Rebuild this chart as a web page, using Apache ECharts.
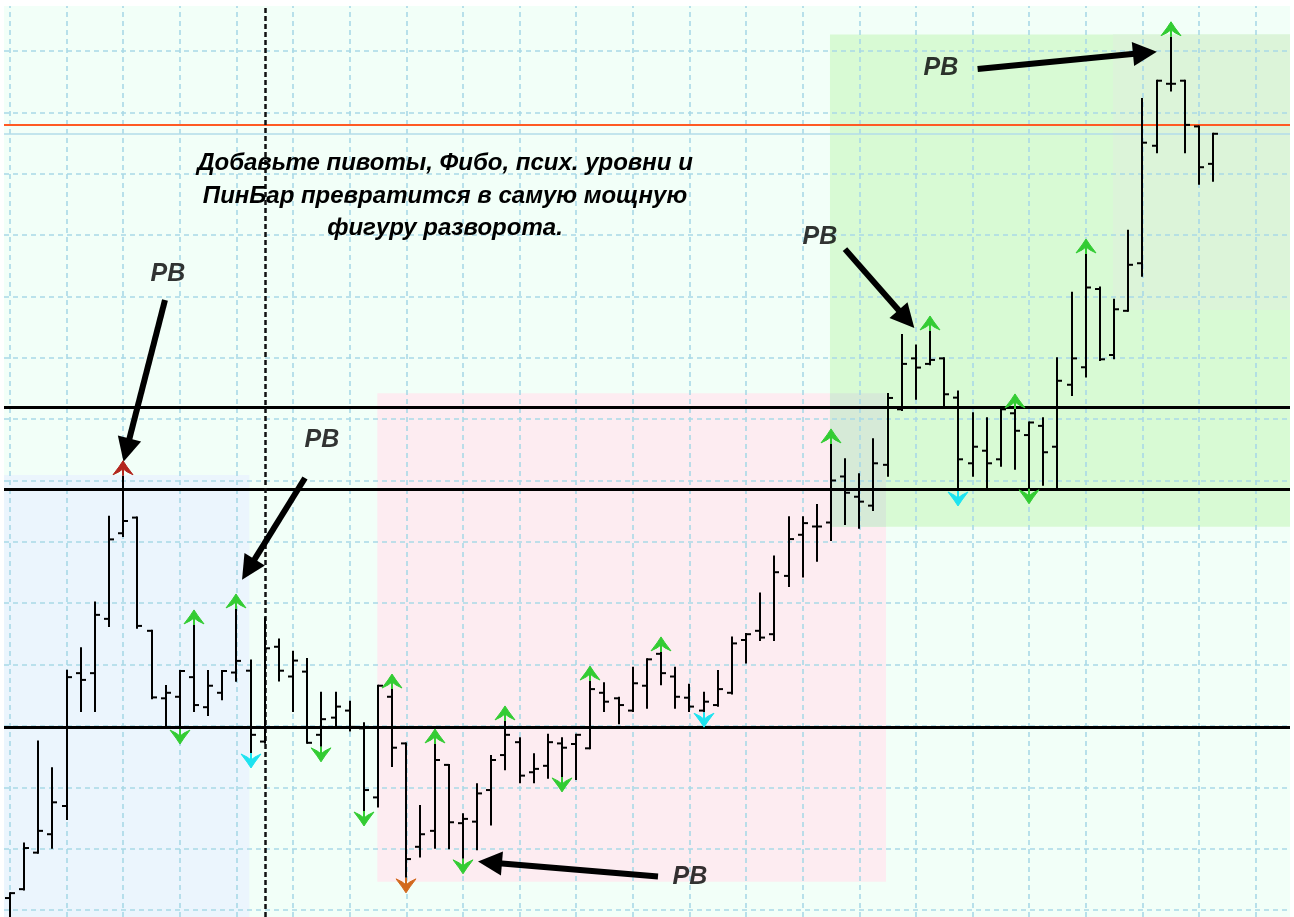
<!DOCTYPE html>
<html><head><meta charset="utf-8">
<script src="https://cdn.jsdelivr.net/npm/echarts@6/dist/echarts.min.js"></script>
<style>html,body{margin:0;padding:0;background:#fff;}#c{width:1294px;height:917px;}</style>
</head><body><div id="c"></div>
<script>
// price in pips (grid step 20 pips), x = bar index
const opens = [3.9,6.8,18.7,24.7,33.9,77.2,77.2,94.9,122.8,127.9,
91.0,69.0,69.5,75.9,66.1,70.8,77.4,78.0,54.9,85.8,
76.1,77.7,57.1,62.7,65.0,59.2,36.7,69.5,54.3,20.6,
25.8,47.3,28.3,28.8,39.1,50.5,54.7,44.9,47.0,54.3,
54.1,52.7,70.8,69.0,65.0,73.1,83.5,76.1,69.2,65.0,
66.8,70.8,88.0,91.0,89.9,108.9,122.3,125.0,126.3,141.3,
134.7,131.8,145.1,163.2,179.8,178.0,179.8,167.0,145.6,149.7,
146.9,161.9,154.8,157.8,151.0,171.2,176.9,202.4,180.9,195.3,
210.8,249.1,269.3,270.3,255.4,243.2];
const highs = [5.5,21.7,54.9,46.2,78.0,85.3,100.2,128.2,141.2,127.9,
91.0,73.0,77.9,92.6,77.9,77.9,97.8,81.3,95.1,88.2,
84.2,81.8,70.8,70.8,67.9,60.9,73.1,71.7,54.3,33.9,
53.8,47.3,31.2,41.0,50.2,61.3,56.0,50.8,57.1,56.0,
57.1,74.3,73.9,69.2,79.0,81.7,83.8,79.0,73.4,70.8,
77.9,88.8,90.0,103.2,115.2,128.0,128.0,132.0,151.6,146.9,
142.0,153.4,168.2,187.4,184.0,188.4,179.8,169.0,161.9,160.3,
163.2,163.0,158.9,160.3,179.8,201.2,213.5,202.9,198.9,221.4,
264.3,270.3,284.3,270.3,255.4,253.0];
const lows = [-6.5,6.7,18.7,20.3,29.7,64.9,64.9,92.6,121.9,92.0,
69.0,59.7,59.3,64.9,63.6,68.7,74.7,51.5,54.5,74.8,
64.9,54.5,53.5,59.6,58.5,32.6,33.7,46.9,10.8,17.4,
20.3,20.1,17.0,19.8,27.9,45.9,41.6,41.6,43.1,43.7,
42.7,52.7,64.9,60.9,64.9,65.9,73.6,65.9,64.9,64.8,
66.6,70.6,80.7,88.0,88.0,105.6,108.7,113.8,120.6,125.8,
124.6,130.4,141.5,163.0,166.6,177.9,164.1,136.9,141.5,137.5,
144.8,143.8,137.6,138.6,137.5,167.9,173.9,179.3,179.8,195.3,
206.7,247.0,267.1,247.0,236.7,237.7];
const closes = [5.5,20.2,25.8,35.1,75.9,75.0,96.2,120.8,126.8,92.6,
69.3,70.8,77.9,66.8,73.1,77.9,81.2,57.1,85.3,78.0,
81.3,54.5,62.2,66.3,59.7,39.1,73.1,52.9,16.6,24.7,
48.9,28.6,29.7,38.0,48.9,57.1,43.8,46.0,54.7,52.9,
57.1,72.0,67.9,66.8,73.9,81.7,77.2,69.5,66.3,67.9,
72.0,86.9,89.9,88.8,110.1,120.9,126.1,125.0,140.0,136.0,
133.1,145.6,166.9,178.0,176.8,179.3,168.1,146.9,151.0,145.6,
163.2,156.2,158.9,149.2,172.5,179.8,202.9,179.5,195.8,210.3,
250.1,270.3,269.3,255.9,242.1,253.0];

// fractal markers: bar index + colour
const upBars   = [8,13,16,27,30,35,41,46,58,65,71,76,82];
const upCols   = ['#b3261e','#33cc33','#33cc33','#33cc33','#33cc33','#33cc33','#33cc33','#33cc33','#33cc33','#33cc33','#33cc33','#33cc33','#33cc33'];
const downBars = [12,17,22,25,28,32,39,49,67,72];
const downCols = ['#33cc33','#1de3f0','#33cc33','#33cc33','#d2691e','#33cc33','#33cc33','#1de3f0','#1de3f0','#33cc33'];

// horizontal levels
const blackLevels = [164.0, 137.2, 59.7];
const redLevel = 255.8;
const bidLevel = 253.0;
const separatorBar = 18;

// grid ticks
const gridXTicks = [0,4,8,12,16,20,24,28,32,36,40,44,48,52,56,60,64,68,72,76,80,84,88];
const gridYTicks = [0,20,40,60,80,100,120,140,160,180,200,220,240,260,280];

// axis extents
const xMin = -0.424, xMax = 90.43, yMin = -2.28, yMax = 294.65;

// shaded zones
const zoneX0 = [xMin, 25.95, 57.93, 57.93, 77.92];
const zoneY0 = [yMin, 9.2, 124.9, 124.9, 195.6];
const zoneX1 = [16.91, 61.89, xMax, 61.89, xMax];
const zoneY1 = [141.8, 168.4, 285.4, 168.4, 285.4];
const zoneCols = ['#ebf5fd', '#fdecf1', '#d8fad4', '#d6ead7', '#dcf4d9'];

// PB annotations
const pbX = [11.16, 22.04, 65.77, 57.22, 48.04];
const pbY = [207.3, 153.2, 274.5, 219.4, 10.8];
const arrowFromX = [10.95, 20.84, 68.36, 58.99, 45.78];
const arrowFromY = [198.8, 140.8, 274.1, 215.4, 10.9];
const arrowToX   = [8.23, 16.84, 80.18, 63.33, 33.91];
const arrowToY   = [149.9, 111.0, 279.4, 192.6, 15.5];

const noteLines = ['Добавьте пивоты, Фибо, псих. уровни и', 'ПинБар превратится в самую мощную', 'фигуру разворота.'];

const chart = echarts.init(document.getElementById('c'), null, {renderer:'canvas'});

const barData = opens.map((o,i)=>[i,o,highs[i],lows[i],closes[i]]);
const fracData = upBars.map((b,k)=>[b, highs[b], 1, upCols[k]])
  .concat(downBars.map((b,k)=>[b, lows[b], -1, downCols[k]]));
const zoneData = zoneX0.map((x,i)=>[x, zoneY0[i], zoneX1[i], zoneY1[i], i]);

const dashBlue = {color:'#a9d9e6', width:1.6, type:[5,4]};

const option = {
  animation:false,
  backgroundColor:'#ffffff',
  grid:{left:4,right:4,top:6,bottom:0,show:true,backgroundColor:'#f2fff8',borderWidth:0},
  xAxis:{type:'value',min:xMin,max:xMax,show:false},
  yAxis:{type:'value',min:yMin,max:yMax,show:false},
  graphic: noteLines.map((t,i)=>({
    type:'text', x:445, y:[163,196.5,228.5][i], z:100,
    style:{text:t, fill:'#000', font:'italic bold 24px "Liberation Sans", Arial, sans-serif', textAlign:'center', textVerticalAlign:'middle'}
  })),
  series:[
    { // zones
      type:'custom', z:1, silent:true, clip:true,
      data: zoneData,
      renderItem(params, api){
        const a = api.coord([api.value(0), api.value(3)]);
        const b = api.coord([api.value(2), api.value(1)]);
        const cs = params.coordSys;
        const x0 = Math.max(a[0], cs.x), x1 = Math.min(b[0], cs.x+cs.width);
        const y0 = Math.max(a[1], cs.y), y1 = Math.min(b[1], cs.y+cs.height);
        return {type:'rect', shape:{x:x0,y:y0,width:x1-x0,height:y1-y0}, style:{fill:zoneCols[api.value(4)]}};
      }
    },
    { // grid lines
      type:'line', data:[], z:2, silent:true,
      markLine:{silent:true, symbol:['none','none'], label:{show:false}, lineStyle:dashBlue,
        data: gridXTicks.map(v=>({xAxis:v})).concat(gridYTicks.map(v=>({yAxis:v})))}
    },
    { // levels
      type:'line', data:[], z:3, silent:true,
      markLine:{silent:true, symbol:['none','none'], label:{show:false},
        data: blackLevels.map(v=>({yAxis:v, lineStyle:{color:'#000', width:3, type:'solid'}}))
          .concat([{yAxis:redLevel, lineStyle:{color:'#ff5a24', width:2, type:'solid'}},
                   {yAxis:bidLevel, lineStyle:{color:'#b3dcea', width:1.5, type:'solid'}},
                   {xAxis:separatorBar, lineStyle:{color:'#111', width:2.5, type:[5,3]}}])}
    },
    { // OHLC bars
      type:'custom', z:10, clip:false,
      data: barData,
      encode:{x:0, y:[1,2,3,4]},
      renderItem(params, api){
        const i = api.value(0);
        const pO = api.coord([i, api.value(1)]);
        const pH = api.coord([i, api.value(2)]);
        const pL = api.coord([i, api.value(3)]);
        const pC = api.coord([i, api.value(4)]);
        const x = Math.round(pH[0]);
        const st = {stroke:'#000', lineWidth:2};
        return {type:'group', children:[
          {type:'line', shape:{x1:x,y1:pH[1]-1,x2:x,y2:pL[1]+1}, style:st},
          {type:'line', shape:{x1:x-5,y1:pO[1],x2:x,y2:pO[1]}, style:st},
          {type:'line', shape:{x1:x,y1:pC[1],x2:x+5,y2:pC[1]}, style:st}
        ]};
      }
    },
    { // fractal arrows
      type:'custom', z:12, clip:false,
      data: fracData,
      renderItem(params, api){
        const p = api.coord([api.value(0), api.value(1)]);
        const s = api.value(2);
        const col = fracData[params.dataIndex][3];
        const x = Math.round(p[0]);
        const tipY = p[1] - s*16;
        const pts = [[0,0],[4,6],[10,14],[4,11],[0,8],[-4,11],[-10,14],[-4,6]]
          .map(q=>[x+q[0], tipY + s*q[1]]);
        return {type:'group', children:[
          {type:'polygon', shape:{points:pts}, style:{fill:col, stroke:col, lineWidth:1}},
          {type:'line', shape:{x1:x,y1:tipY+s*3,x2:x,y2:p[1]-s*1}, style:{stroke:col,lineWidth:2}}
        ]};
      }
    },
    { // PB arrows
      type:'line', data:[], z:20, silent:true,
      markLine:{silent:true, symbol:['none','triangle'], symbolSize:24, label:{show:false},
        lineStyle:{color:'#000', width:6, type:'solid', opacity:1},
        data: arrowFromX.map((x,i)=>[{coord:[x, arrowFromY[i]]},{coord:[arrowToX[i], arrowToY[i]]}])}
    },
    { // PB labels
      type:'scatter', z:21, silent:true, symbolSize:0,
      data: pbX.map((x,i)=>[x,pbY[i]]),
      label:{show:true, position:'inside', formatter:'PB', color:'#000', fontSize:25, fontWeight:'bold', fontStyle:'italic', fontFamily:'"Liberation Sans", Arial, sans-serif'}
    }
  ]
};
chart.setOption(option);
</script></body></html>
